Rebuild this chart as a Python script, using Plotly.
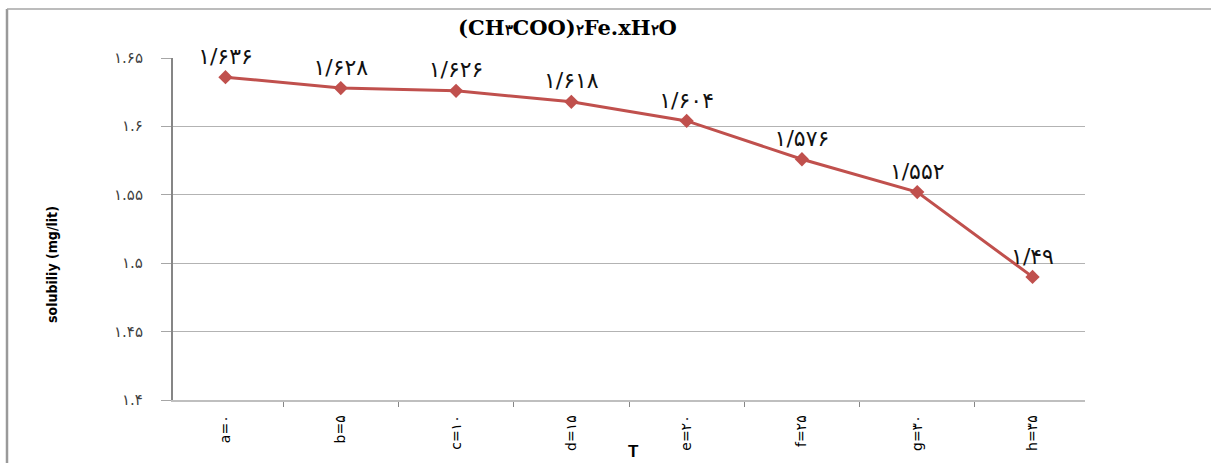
import plotly.graph_objects as go

# Temperature categories and measured solubility
categories = ["a=۰", "b=۵", "c=۱۰", "d=۱۵", "e=۲۰", "f=۲۵", "g=۳۰", "h=۳۵"]
solubility = [1.636, 1.628, 1.626, 1.618, 1.604, 1.576, 1.552, 1.49]
point_labels = ["۱/۶۳۶", "۱/۶۲۸", "۱/۶۲۶", "۱/۶۱۸", "۱/۶۰۴", "۱/۵۷۶", "۱/۵۵۲", "۱/۴۹"]

y_ticks = [1.4, 1.45, 1.5, 1.55, 1.6, 1.65]
y_tick_text = ["۱.۴", "۱.۴۵", "۱.۵", "۱.۵۵", "۱.۶", "۱.۶۵"]

W, H = 1211, 463
L, R, T, B = 173, 126, 58, 63
pw, ph = W - L - R, H - T - B


def px(x):
    return (x - L) / pw


def py(y):
    return (H - B - y) / ph


def small(d):
    # smaller digit inside the formula
    return f"<span style='font-size:15px'>{d}</span>"


fig = go.Figure()
fig.add_trace(go.Scatter(
    x=categories,
    y=solubility,
    mode="lines+markers+text",
    line=dict(color="#C0504D", width=3),
    marker=dict(symbol="diamond", size=11, color="#C0504D"),
    text=point_labels,
    textposition="top center",
    textfont=dict(family="DejaVu Sans", size=22, color="#111111"),
    cliponaxis=False,
    showlegend=False,
))

# Y tick labels set a little away from the axis, placed on the y scale
tick_annotations = [
    dict(text=t, xref="paper", yref="y", x=px(145), y=v,
         xanchor="right", yanchor="middle", showarrow=False,
         font=dict(family="DejaVu Sans", size=15, color="#404040"))
    for v, t in zip(y_ticks, y_tick_text)
]

title_text = f"<b>(CH{small('۳')}COO){small('۲')}Fe.xH{small('۲')}O</b>"

fig.update_layout(
    width=W, height=H,
    margin=dict(l=L, r=R, t=T, b=B),
    paper_bgcolor="white",
    plot_bgcolor="white",
    xaxis=dict(
        type="category",
        tickson="boundaries",
        ticks="outside", ticklen=5, tickcolor="#868686",
        showline=True, linecolor="#BFBFBF", linewidth=1.5,
        showgrid=False,
        tickangle=-90,
        tickfont=dict(family="DejaVu Sans", size=14, color="#000000"),
        ticklabelstandoff=8,
    ),
    yaxis=dict(
        range=[1.4, 1.65],
        tickvals=y_ticks,
        showticklabels=False,
        ticks="outside", ticklen=10, tickcolor="#A6A6A6",
        showline=True, linecolor="#868686", linewidth=1.5,
        showgrid=True, gridcolor="#B3B3B3", gridwidth=1,
        zeroline=False,
    ),
    annotations=tick_annotations + [
        dict(text=title_text,
             xref="paper", yref="paper",
             x=px(567), y=py(27), xanchor="center", yanchor="middle",
             showarrow=False,
             font=dict(family="DejaVu Serif", size=21, color="#000000")),
        dict(text="<b>solubiliy (mg/lit)</b>", xref="paper", yref="paper",
             x=px(52), y=py(265), xanchor="center", yanchor="middle",
             textangle=-90, showarrow=False,
             font=dict(family="DejaVu Sans Condensed", size=14, color="#000000")),
        dict(text="<b>T</b>", xref="paper", yref="paper",
             x=px(633), y=py(452), xanchor="center", yanchor="middle",
             showarrow=False,
             font=dict(family="Liberation Sans", size=17, color="#000000")),
    ],
    shapes=[
        dict(type="line", xref="paper", yref="paper",
             x0=px(7), x1=px(7), y0=py(9), y1=py(H + 5),
             line=dict(color="#9A9A9A", width=2.5)),
        dict(type="line", xref="paper", yref="paper",
             x0=px(7), x1=px(W + 5), y0=py(9), y1=py(9),
             line=dict(color="#A6A6A6", width=1.5)),
    ],
)

fig.write_html("out.html")
